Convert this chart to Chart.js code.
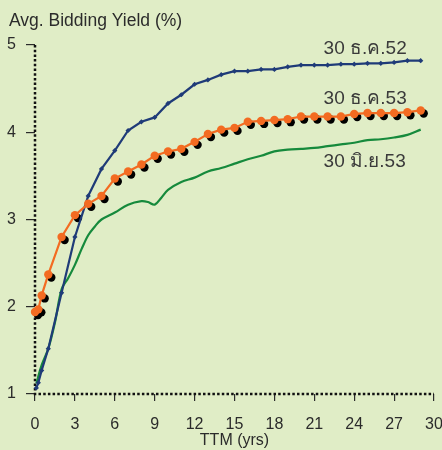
<!DOCTYPE html>
<html>
<head>
<meta charset="utf-8">
<script src="https://cdn.jsdelivr.net/npm/chart.js@4"></script>
<style>
    html, body { margin: 0; padding: 0; background: #e0edc6; }
    #wrap { width: 442px; height: 450px; position: relative; }
</style>
</head>
<body>
<div id="wrap"><canvas id="yieldChart" width="442" height="450"></canvas></div>
<script>
// อายุคงเหลือ (ปี)
const xTicks = [0, 3, 6, 9, 12, 15, 18, 21, 24, 27, 30];
const yTicks = [1, 2, 3, 4, 5];

const dec52Ttm = [0.1, 0.25, 0.5, 1, 2, 3, 4, 5, 6, 7, 8, 9, 10, 11, 12, 13, 14, 15, 16, 17, 18, 19, 20, 21, 22, 23, 24, 25, 26, 27, 28, 29];
const dec52Yield = [1.07, 1.13, 1.27, 1.52, 2.16, 2.80, 3.27, 3.58, 3.79, 4.02, 4.12, 4.17, 4.33, 4.43, 4.55, 4.60, 4.66, 4.70, 4.70, 4.72, 4.72, 4.75, 4.77, 4.77, 4.77, 4.78, 4.78, 4.79, 4.79, 4.80, 4.82, 4.82];

const dec53Ttm = [0, 0.25, 0.5, 1, 2, 3, 4, 5, 6, 7, 8, 9, 10, 11, 12, 13, 14, 15, 16, 17, 18, 19, 20, 21, 22, 23, 24, 25, 26, 27, 28, 29];
const dec53Yield = [1.94, 1.97, 2.13, 2.37, 2.80, 3.05, 3.18, 3.27, 3.47, 3.55, 3.63, 3.73, 3.78, 3.81, 3.89, 3.98, 4.03, 4.05, 4.12, 4.13, 4.14, 4.15, 4.18, 4.18, 4.18, 4.18, 4.21, 4.22, 4.22, 4.22, 4.23, 4.25];

const jun53Ttm = [0.1, 0.5, 1, 1.5, 2, 2.5, 3, 3.5, 4, 4.5, 5, 6, 7, 8, 8.5, 9, 9.5, 10, 11, 12, 13, 14, 15, 16, 17, 18, 19, 20, 21, 22, 23, 24, 25, 26, 27, 28, 29];
const jun53Yield = [1.12, 1.33, 1.52, 1.82, 2.20, 2.33, 2.48, 2.66, 2.82, 2.92, 3.00, 3.08, 3.17, 3.21, 3.20, 3.17, 3.25, 3.34, 3.43, 3.48, 3.55, 3.59, 3.64, 3.69, 3.73, 3.78, 3.80, 3.81, 3.82, 3.84, 3.86, 3.88, 3.91, 3.92, 3.94, 3.97, 4.03];

const seriesLabels = ['30 ธ.ค.52', '30 ธ.ค.53', '30 มิ.ย.53'];
const labelAnchor = [[21.7, 4.96], [21.7, 4.38], [21.7, 3.66]];

const pts = (xs, ys) => xs.map((x, i) => ({ x, y: ys[i] }));

const FONT = '"Liberation Sans", Arial, sans-serif';
const BLUE = '#1f3b78';
const ORANGE = '#f36b21';
const GREEN = '#168a3c';
const INK = '#2b2b2b';
const SHADOW_IDX = 3;

// black dots sit a few pixels below-right of the orange ones
const shadowShift = {
    id: 'shadowShift',
    beforeDatasetDraw(chart, args) {
        if (args.index !== SHADOW_IDX) return;
        chart.ctx.save();
        chart.ctx.translate(3, 3);
    },
    afterDatasetDraw(chart, args) {
        if (args.index !== SHADOW_IDX) return;
        chart.ctx.restore();
    }
};

// dotted axis lines
const dottedAxes = {
    id: 'dottedAxes',
    beforeDatasetsDraw(chart) {
        const { ctx, chartArea: a } = chart;
        ctx.save();
        ctx.strokeStyle = '#111';
        ctx.lineWidth = 2.5;
        ctx.setLineDash([2.5, 2.2]);
        ctx.beginPath();
        ctx.moveTo(a.left, a.top);
        ctx.lineTo(a.left, a.bottom);
        ctx.lineTo(a.right, a.bottom);
        ctx.stroke();
        ctx.restore();
    }
};

const seriesText = {
    id: 'seriesText',
    afterDatasetsDraw(chart) {
        const { ctx, scales } = chart;
        ctx.save();
        ctx.font = '19px ' + FONT;
        ctx.fillStyle = '#3a3a3a';
        ctx.textBaseline = 'middle';
        ctx.textAlign = 'left';
        seriesLabels.forEach((t, i) => {
            ctx.fillText(t, scales.x.getPixelForValue(labelAnchor[i][0]), scales.y.getPixelForValue(labelAnchor[i][1]));
        });
        ctx.font = '17.5px ' + FONT;
        ctx.fillStyle = INK;
        ctx.textBaseline = 'alphabetic';
        ctx.fillText('Avg. Bidding Yield (%)', 9, 26);
        ctx.restore();
    }
};

new Chart(document.getElementById('yieldChart'), {
    type: 'scatter',
    data: {
        datasets: [
            { label: seriesLabels[1], data: pts(dec53Ttm, dec53Yield), showLine: true, borderColor: ORANGE, borderWidth: 2.2, pointRadius: 4.2, pointBackgroundColor: ORANGE, pointBorderWidth: 0 },
            { label: seriesLabels[0], data: pts(dec52Ttm, dec52Yield), showLine: true, borderColor: BLUE, borderWidth: 2.2, pointRadius: 2.6, pointStyle: 'rectRot', pointBackgroundColor: BLUE, pointBorderWidth: 0 },
            { label: seriesLabels[2], data: pts(jun53Ttm, jun53Yield), showLine: true, borderColor: GREEN, borderWidth: 2.2, tension: 0.35, pointRadius: 0 },
            { label: 'shadow', data: pts(dec53Ttm, dec53Yield), showLine: false, pointRadius: 4.2, pointBackgroundColor: '#000', pointBorderWidth: 0 }
        ]
    },
    options: {
        responsive: false,
        animation: false,
        layout: { padding: { top: 45, right: 8, left: 0, bottom: 0 } },
        plugins: { legend: { display: false }, tooltip: { enabled: false } },
        elements: { point: { hoverRadius: 0 } },
        clip: false,
        scales: {
            x: {
                type: 'linear',
                min: 0,
                max: 30,
                afterBuildTicks: (s) => { s.ticks = xTicks.map((v) => ({ value: v })); },
                afterFit: (s) => { s.height = 56; s.paddingLeft = 0; s.paddingRight = 0; },
                border: { display: false },
                grid: { drawOnChartArea: false, drawTicks: true, tickLength: 7, color: INK, lineWidth: 1.2 },
                ticks: { color: INK, font: { family: FONT, size: 16 }, padding: 14, maxRotation: 0 },
                title: { display: true, text: 'TTM (yrs)', color: INK, font: { family: FONT, size: 16 }, padding: { top: -4, bottom: 0 } }
            },
            y: {
                type: 'linear',
                min: 1,
                max: 5,
                afterBuildTicks: (s) => { s.ticks = yTicks.map((v) => ({ value: v })); },
                afterFit: (s) => { s.width = 35; s.paddingTop = 0; s.paddingBottom = 0; },
                border: { display: false },
                grid: { drawOnChartArea: false, drawTicks: true, tickLength: 9, color: INK, lineWidth: 1.2 },
                ticks: { color: INK, font: { family: FONT, size: 16 }, padding: 10 }
            }
        }
    },
    plugins: [shadowShift, dottedAxes, seriesText]
});
</script>
</body>
</html>
